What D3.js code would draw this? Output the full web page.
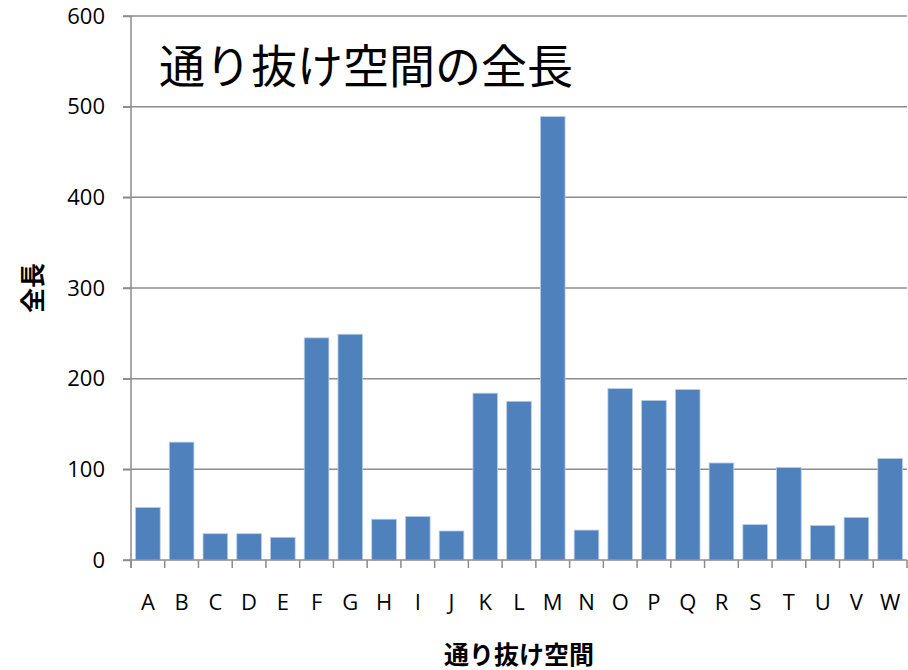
<!DOCTYPE html>
<html>
<head>
<meta charset="utf-8">
<script src="https://cdn.jsdelivr.net/npm/d3@7"></script>
<style>
  body { margin: 0; background: #fff; }
  text { font-family: "Open Sans", "Noto Sans CJK JP", sans-serif; }
</style>
</head>
<body>
<svg width="908" height="670"></svg>
<script>
var categories = ["A","B","C","D","E","F","G","H","I","J","K","L","M","N","O","P","Q","R","S","T","U","V","W"];
var values = [58,130,29,29,25,245,249,45,48,32,184,175,489,33,189,176,188,107,39,102,38,47,112];
var yTicks = [0,100,200,300,400,500,600];
var title = "通り抜け空間の全長";
var xTitle = "通り抜け空間";
var yTitle = "全長";

var svg = d3.select("svg"),
    plotLeft = 131, plotRight = 907, plotTop = 16, plotBottom = 560;

var x = d3.scaleBand()
    .domain(categories)
    .range([plotLeft, plotRight])
    .paddingInner(0.27)
    .paddingOuter(0.135);

var y = d3.scaleLinear()
    .domain([0, 600])
    .range([plotBottom, plotTop]);

// gridlines
svg.append("g")
    .selectAll("line")
    .data(yTicks.filter(function (d) { return d > 0; }))
    .enter()
    .append("line")
    .attr("x1", plotLeft - 8)
    .attr("x2", plotRight)
    .attr("y1", function (d) { return y(d); })
    .attr("y2", function (d) { return y(d); })
    .attr("stroke", "#8c8c8c")
    .attr("stroke-width", 1.5);

// bars
svg.append("g")
    .selectAll("rect")
    .data(values)
    .enter()
    .append("rect")
    .attr("x", function (d, i) { return x(categories[i]); })
    .attr("y", function (d) { return y(d); })
    .attr("width", x.bandwidth())
    .attr("height", function (d) { return y(0) - y(d); })
    .attr("fill", "#4f81bd")
    .attr("stroke", "#b9cde5")
    .attr("stroke-width", 0.8);

// y axis
var yAxis = svg.append("g")
    .attr("transform", "translate(" + plotLeft + ",0)")
    .call(d3.axisLeft(y).tickValues(yTicks).tickSize(8).tickPadding(18).tickFormat(d3.format("d")));
yAxis.select(".domain").attr("stroke", "#8c8c8c").attr("stroke-width", 1.5)
    .attr("d", "M0," + plotTop + "V" + (plotBottom + 8));
yAxis.selectAll(".tick line").attr("stroke", "#8c8c8c").attr("stroke-width", 1.5);
yAxis.selectAll("text").attr("font-size", 22).attr("fill", "#000")
    .attr("font-family", "'Open Sans', sans-serif");

// x axis
var xAxis = svg.append("g")
    .attr("transform", "translate(0," + plotBottom + ")")
    .call(d3.axisBottom(x).tickSize(0).tickPadding(34));
xAxis.select(".domain").attr("stroke", "#8c8c8c").attr("stroke-width", 1.5)
    .attr("d", "M" + (plotLeft - 8) + ",0H" + plotRight);
xAxis.selectAll("text").attr("font-size", 22).attr("fill", "#000")
    .attr("font-family", "'Open Sans', sans-serif");

// category boundary ticks
var step = x.step();
svg.append("g")
    .selectAll("line")
    .data(d3.range(categories.length + 1))
    .enter()
    .append("line")
    .attr("x1", function (i) { return plotLeft + i * step; })
    .attr("x2", function (i) { return plotLeft + i * step; })
    .attr("y1", plotBottom)
    .attr("y2", plotBottom + 8)
    .attr("stroke", "#8c8c8c")
    .attr("stroke-width", 1.5);

// chart title
svg.append("text")
    .attr("x", 159)
    .attr("y", 83)
    .attr("font-size", 46)
    .attr("font-family", "'Noto Sans CJK JP', sans-serif")
    .attr("fill", "#000")
    .text(title);

// axis titles
svg.append("text")
    .attr("x", (plotLeft + plotRight) / 2)
    .attr("y", 664)
    .attr("text-anchor", "middle")
    .attr("font-size", 25)
    .attr("font-weight", "bold")
    .attr("font-family", "'Noto Sans CJK JP', sans-serif")
    .attr("fill", "#000")
    .text(xTitle);

svg.append("text")
    .attr("transform", "translate(42,288) rotate(-90)")
    .attr("text-anchor", "middle")
    .attr("font-size", 25)
    .attr("font-weight", "bold")
    .attr("font-family", "'Noto Sans CJK JP', sans-serif")
    .attr("fill", "#000")
    .text(yTitle);
</script>
</body>
</html>
